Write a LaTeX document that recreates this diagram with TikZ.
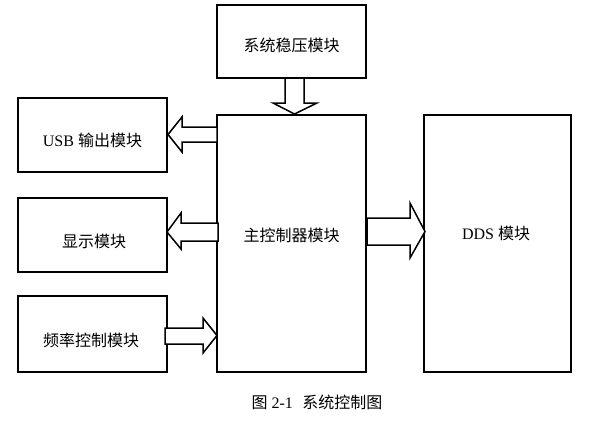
\documentclass[tikz,border=0pt]{standalone}
\usepackage{fontspec}
\setmainfont{Liberation Serif}
\newfontfamily\cjk{Noto Sans CJK SC}
\begin{document}
\begin{tikzpicture}[x=1pt,y=-1pt,
  box/.style={draw, line width=2pt, inner sep=0pt},
  lbl/.style={inner sep=0pt, font=\fontsize{16}{18}\selectfont},
  blk/.style={draw, line width=1.5pt, fill=white, line join=miter}]
\useasboundingbox (0,0) rectangle (608,432);
% boxes
\node[box, minimum width=149pt, minimum height=73pt] (top) at (291.5,41.5) {};
\node[box, minimum width=149pt, minimum height=257pt] (main) at (291.5,243.5) {};
\node[box, minimum width=149pt, minimum height=74pt] (usb) at (92.5,135) {};
\node[box, minimum width=149pt, minimum height=74pt] (disp) at (92.5,235) {};
\node[box, minimum width=149pt, minimum height=76pt] (freq) at (92.5,334) {};
\node[box, minimum width=147pt, minimum height=257pt] (dds) at (497.5,243.5) {};
% labels
\node[lbl] (ttop) at (291.5,45) {\cjk 系统稳压模块};
\node[lbl] (tmain) at (291.5,235) {\cjk 主控制器模块};
\node[lbl] (tusb) at (92.5,140) {USB {\cjk 输出模块}};
\node[lbl] (tdisp) at (94,241) {\cjk 显示模块};
\node[lbl] (tfreq) at (91,340) {\cjk 频率控制模块};
\node[lbl] (tdds) at (496,233) {DDS {\cjk 模块}};
\node[inner sep=0pt, font=\fontsize{16}{18}\selectfont] (cap) at (317,402) {{\cjk 图} 2-1\hspace{0.6em}{\cjk 系统控制图}};
% block arrows
\draw[blk] (285,78) -- (285,103) -- (273,103) -- (294.5,114) -- (317,103) -- (304,103) -- (304,78) -- cycle;
\draw[blk] (217,127) -- (182,127) -- (182,117) -- (168,134.5) -- (182,152) -- (182,142) -- (217,142) -- cycle;
\draw[blk] (218,223) -- (181,223) -- (181,213) -- (167,232) -- (181,249) -- (181,241) -- (218,241) -- cycle;
\draw[blk] (165,328) -- (203,328) -- (203,318) -- (217,335.5) -- (203,353) -- (203,344) -- (165,344) -- cycle;
\draw[blk] (367,218) -- (410,218) -- (410,203) -- (425,231.5) -- (410,258) -- (410,245) -- (367,245) -- cycle;
\end{tikzpicture}
\end{document}
